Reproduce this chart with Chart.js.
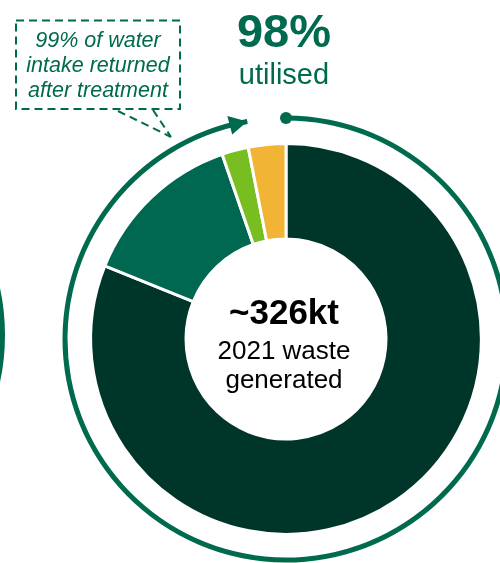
<!DOCTYPE html>
<html>
<head>
<meta charset="utf-8">
<script src="https://cdn.jsdelivr.net/npm/chart.js@4/dist/chart.umd.min.js"></script>
<style>
  html, body { margin: 0; padding: 0; background: #fff; }
  #wrap { position: relative; width: 500px; height: 563px; overflow: hidden;
          font-family: "Liberation Sans", Arial, sans-serif; }
  #c { position: absolute; left: 0; top: 0; }
  .t { position: absolute; white-space: nowrap; text-align: center; line-height: 1;
       transform: translateX(-50%); }
</style>
</head>
<body>
<div id="wrap">
  <canvas id="c" width="500" height="563"></canvas>
  <div class="t" id="pct" style="left:284px; top:7px; font-size:47px; font-weight:bold; color:#006A4E;"></div>
  <div class="t" id="pctSub" style="left:284px; top:60px; font-size:29px; color:#006A4E;"></div>
  <div class="t" id="c1" style="left:284px; top:294px; font-size:35px; font-weight:bold; color:#000;"></div>
  <div class="t" id="c2" style="left:284px; top:337px; font-size:26px; color:#000;"></div>
  <div class="t" id="c3" style="left:284px; top:366px; font-size:26px; color:#000;"></div>
  <div class="t" id="note" style="left:98px; top:28px; font-size:21.5px; line-height:25px; font-style:italic; color:#006A4E;"></div>
</div>
<script>
// ---- data ----
const categories = ['Segment 1', 'Segment 2', 'Segment 3', 'Segment 4'];
const wasteShares = [81.1, 13.6, 2.2, 3.1];
const ringLabels = ['Utilised', 'Remainder'];
const ringValues = [97.2, 2.8];
const headline = '98%';
const headlineSub = 'utilised';
const centerLines = ['~326kt', '2021 waste', 'generated'];
const noteLines = ['99% of water', 'intake returned', 'after treatment'];

// ---- styles ----
const GREEN = '#006A4E';
const sliceColors = ['#00352A', '#006750', '#78BE20', '#F1B434'];

document.getElementById('pct').textContent = headline;
document.getElementById('pctSub').textContent = headlineSub;
document.getElementById('c1').textContent = centerLines[0];
document.getElementById('c2').textContent = centerLines[1];
document.getElementById('c3').textContent = centerLines[2];
document.getElementById('note').innerHTML = noteLines.join('<br>');

const decorPlugin = {
  id: 'decor',
  afterDatasetsDraw(chart) {
    const ctx = chart.ctx;
    const arc = chart.getDatasetMeta(0).data[0];
    const cx = arc.x, cy = arc.y;
    const r = (arc.outerRadius + arc.innerRadius) / 2;
    ctx.save();
    ctx.fillStyle = GREEN;
    // start dot
    const a0 = arc.startAngle;
    ctx.beginPath();
    ctx.arc(cx + r * Math.cos(a0), cy + r * Math.sin(a0), 6, 0, Math.PI * 2);
    ctx.fill();
    // arrow head at end
    const a1 = arc.endAngle;
    const L = 18, W = 19;
    const ab = a1 - L / r;
    const tip = [cx + r * Math.cos(a1), cy + r * Math.sin(a1)];
    const bx = cx + r * Math.cos(ab), by = cy + r * Math.sin(ab);
    const nx = Math.cos(ab), ny = Math.sin(ab);
    ctx.beginPath();
    ctx.moveTo(tip[0], tip[1]);
    ctx.lineTo(bx + nx * W / 2, by + ny * W / 2);
    ctx.lineTo(bx - nx * W / 2, by - ny * W / 2);
    ctx.closePath();
    ctx.fill();
    // partial neighbouring ring at far left
    ctx.strokeStyle = GREEN;
    ctx.lineWidth = 5;
    ctx.beginPath();
    ctx.arc(-217.5, 335, 220, -0.4, 0.4);
    ctx.stroke();
    // dashed callout box
    ctx.lineWidth = 2;
    ctx.setLineDash([8, 5]);
    ctx.strokeRect(16, 20.5, 164, 88.5);
    ctx.beginPath();
    ctx.moveTo(118, 111); ctx.lineTo(171, 137);
    ctx.moveTo(153, 110); ctx.lineTo(171, 137);
    ctx.stroke();
    ctx.restore();
  }
};

new Chart(document.getElementById('c'), {
  type: 'doughnut',
  data: {
    labels: categories,
    datasets: [
      { label: 'Ring', data: ringValues, backgroundColor: [GREEN, 'rgba(0,0,0,0)'],
        borderWidth: 0, weight: 5, clip: false },
      { label: 'Spacer', data: [1], backgroundColor: ['rgba(0,0,0,0)'],
        borderWidth: 0, weight: 23, clip: false },
      { label: 'Waste', data: wasteShares, backgroundColor: sliceColors,
        borderColor: '#ffffff', borderWidth: 3, weight: 95, clip: false }
    ]
  },
  options: {
    responsive: false,
    animation: false,
    devicePixelRatio: 1,
    radius: 223.5,
    cutout: '44.74%',
    layout: { padding: { left: 72, right: 0, top: 115, bottom: 0 } },
    plugins: { legend: { display: false }, tooltip: { enabled: false } },
    events: []
  },
  plugins: [decorPlugin]
});
</script>
</body>
</html>
